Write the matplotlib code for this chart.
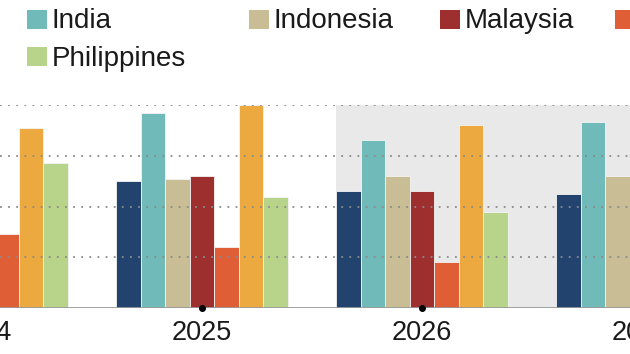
import numpy as np
import matplotlib.pyplot as plt
from matplotlib.patches import Rectangle

# data (nan = outside the visible crop)
years = [2024, 2025, 2026, 2027]
navy_vals = [np.nan, 5.02, 4.60, 4.50]
india_vals = [np.nan, 7.70, 6.61, 7.32]
indonesia_vals = [np.nan, 5.10, 5.20, 5.20]
malaysia_vals = [np.nan, 5.20, 4.60, np.nan]
orange_vals = [2.90, 2.40, 1.80, np.nan]
amber_vals = [7.11, 8.00, 7.22, np.nan]
philippines_vals = [5.70, 4.39, 3.80, np.nan]

series = [navy_vals, india_vals, indonesia_vals, malaysia_vals,
          orange_vals, amber_vals, philippines_vals]
colors = ['#23436f', '#70bab9', '#c8bd95', '#9e2f2f', '#e05e36', '#eca93f', '#b8d48a']

plt.rcParams['font.family'] = ['Liberation Sans', 'DejaVu Sans']

fig = plt.figure(figsize=(6.3, 3.54), dpi=100)
ax = fig.add_axes([0, 46 / 354, 1, 203 / 354])

w = 0.1114
x = np.array(years, dtype=float)
for i, (vals, c) in enumerate(zip(series, colors)):
    ax.bar(x + (i - 3) * w, vals, width=w, color=c, edgecolor='#f4f4f4',
           linewidth=0.6, zorder=2)

# forecast shading
ax.axvspan(2026 - 3.5 * w, 2028, color='#e9e9e9', zorder=0, lw=0)

for yv in [2, 4, 6, 8]:
    ax.axhline(yv, color='#8a8a8a', linestyle=(0, (1, 3.5)), linewidth=1.3, zorder=3)
ax.axhline(0, color='#9a9a9a', linewidth=2, zorder=3)
ax.plot([2025, 2026], [0, 0], 'o', color='black', markersize=4, zorder=4, clip_on=False)

for s in ax.spines.values():
    s.set_visible(False)
ax.set_yticks([])
ax.set_xticks([])
ax.set_xlim(2025 - 202 / 220, 2025 + 428 / 220)
ax.set_ylim(0, 8)

# year labels drawn by hand so the ones cut by the edge still show
for yr in years:
    ax.annotate(str(yr), (yr, 0), xytext=(0, -9), textcoords='offset points',
                ha='center', va='top', fontsize=19.5, color='#1a1a1a',
                annotation_clip=False)

# legend, laid out as in the picture
def px(xp, yp):
    return xp / 630, (354 - yp) / 354

legend_items = [
    (27, 10, '#70bab9', 'India', 28.3),
    (249, 10, '#c8bd95', 'Indonesia', 28.3),
    (440, 10, '#9e2f2f', 'Malaysia', 28.3),
    (615, 10, '#e05e36', '', 28.3),
    (27, 47, '#b8d48a', 'Philippines', 65.7),
]
for xm, ym, c, lab, base in legend_items:
    x0, y0 = px(xm, ym + 19)
    fig.add_artist(Rectangle((x0, y0), 20 / 630, 19 / 354, transform=fig.transFigure,
                             facecolor=c, edgecolor='none'))
    if lab:
        tx, ty = px(xm + 25, base)
        fig.text(tx, ty, lab, fontsize=20, color='#1a1a1a', va='baseline', ha='left')

fig.savefig('out.png', dpi=100)
